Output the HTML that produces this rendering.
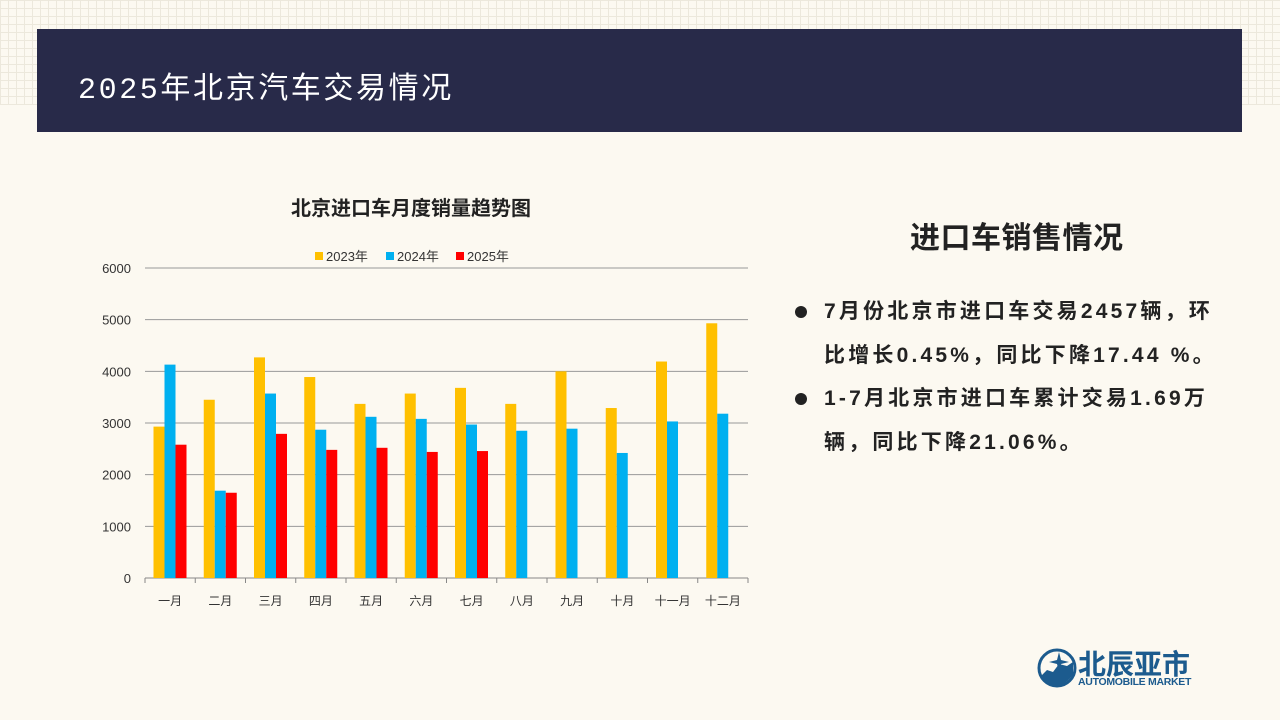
<!DOCTYPE html>
<html><head><meta charset="utf-8"><style>
body{margin:0;width:1280px;height:720px;overflow:hidden;background:#fcf9f1;font-family:"Liberation Sans","Noto Sans CJK SC",sans-serif;position:relative}
.grid{position:absolute;left:0;top:0;width:1280px;height:105px;background-image:linear-gradient(#ece8dc 1px,transparent 1px),linear-gradient(90deg,#ece8dc 1px,transparent 1px);background-size:8px 8px}
.hdr{position:absolute;left:37px;top:29px;width:1205px;height:103px;background:#282a49}
.hdr span{position:absolute;left:41px;top:34px;color:#fff;font-size:30px;font-family:"Liberation Mono","Noto Sans CJK SC",monospace;letter-spacing:2.6px}
.rt{position:absolute;left:910px;top:213px;font-size:30px;font-weight:bold;color:#222;letter-spacing:0.5px}
.bul{position:absolute;left:795px;width:460px;font-size:21px;font-weight:bold;color:#222;line-height:44px;white-space:nowrap}
.bul i{position:absolute;left:0;top:16px;width:12px;height:12px;border-radius:6px;background:#222}
.bul p{margin:0 0 0 29px;letter-spacing:3.2px}
</style></head><body>
<div class="grid"></div>
<div class="hdr"><span>2025年北京汽车交易情况</span></div>
<svg id="c" width="1280" height="720" style="position:absolute;left:0;top:0"></svg>
<div class="rt">进口车销售情况</div>
<div class="bul" style="top:290px"><i></i><p>7月份北京市进口车交易2457辆，环<br>比增长0.45%，同比下降17.44 %。</p></div>
<div class="bul" style="top:377px"><i></i><p>1-7月北京市进口车累计交易1.69万<br>辆，同比下降21.06%。</p></div>
<div style="position:absolute;left:1037px;top:648px">
<svg width="40" height="40"><circle cx="20" cy="20" r="18" fill="none" stroke="#1c5b8e" stroke-width="3"/><path d="M4 28 L10 22 L16 24 L22 16 L30 18 L36 14 L36 26 Q30 36 20 38 Q10 36 4 28Z" fill="#1c5b8e"/><path d="M22 4 L24 12 L32 14 L24 16 L22 24 L20 16 L12 14 L20 12Z" fill="#1c5b8e"/></svg>
<div style="position:absolute;left:41px;top:-5px;font-size:28px;font-weight:bold;color:#1c5b8e;white-space:nowrap">北辰亚市</div>
<div style="position:absolute;left:41px;top:28px;font-size:10.5px;font-weight:bold;color:#1c5b8e;white-space:nowrap;letter-spacing:-0.3px">AUTOMOBILE MARKET</div>
</div>
<script>
const categories=["一月","二月","三月","四月","五月","六月","七月","八月","九月","十月","十一月","十二月"];
const s2023=[2930,3450,4270,3890,3370,3570,3680,3370,4000,3290,4190,4930];
const s2024=[4130,1690,3570,2870,3120,3080,2970,2850,2890,2420,3030,3180];
const s2025=[2580,1650,2790,2480,2520,2440,2457];
const yTicks=[0,1000,2000,3000,4000,5000,6000];
const seriesNames=["2023年","2024年","2025年"];
const colors=["#ffc000","#00b0f0","#ff0000"];
const svg=document.getElementById('c');const NS="http://www.w3.org/2000/svg";
const X0=145,X1=748,Y0=578,Y1=268,YMAX=6000;
const cw=(X1-X0)/categories.length;
const y=v=>Y0-(v/YMAX)*(Y0-Y1);
function mk(t,a){const e=document.createElementNS(NS,t);for(const k in a)e.setAttribute(k,a[k]);svg.appendChild(e);return e;}
let t=mk('text',{x:411,y:215,'text-anchor':'middle','font-size':20,'font-weight':'bold',fill:'#222'});t.textContent="北京进口车月度销量趋势图";


yTicks.forEach(v=>{
 const l=mk('line',{x1:X0,x2:X1,y1:y(v),y2:y(v),stroke:v===0?'#888':'#999','stroke-width':1});
 
 
 const tx=mk('text',{x:131,y:y(v)+5,'text-anchor':'end','font-size':13,fill:'#333'});tx.textContent=v;
 
 
});
categories.forEach((c,i)=>{
 const tk=mk('line',{x1:X0+i*cw,x2:X0+i*cw,y1:Y0,y2:Y0+5,stroke:'#888'});
 
 
 const tx=mk('text',{x:X0+(i+0.5)*cw,y:605,'text-anchor':'middle','font-size':12,fill:'#333'});tx.textContent=c;
 
 
});
mk('line',{x1:X1,x2:X1,y1:Y0,y2:Y0+5,stroke:'#888'});
const bw=11;
[s2023,s2024,s2025].forEach((s,si)=>{
 s.forEach((v,i)=>{
  const r=mk('rect',{x:X0+i*cw+8.5+si*bw,y:y(v),width:bw,height:Y0-y(v),fill:colors[si]});
  
  
 });
});
const lx=[315,386,456];
seriesNames.forEach((n,i)=>{
 const r=mk('rect',{x:lx[i],y:252,width:8,height:8,fill:colors[i]});
 
 
 const tx=mk('text',{x:lx[i]+11,y:261,'font-size':13,fill:'#333'});tx.textContent=n;
 
 
});
</script>
</body></html>
